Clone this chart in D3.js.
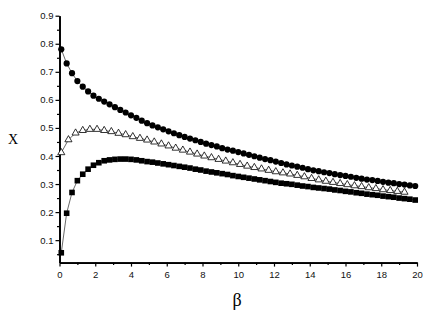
<!DOCTYPE html>
<html lang="en">
<head>
    <meta charset="UTF-8">
    <title>x vs beta</title>
    <script src="https://cdn.jsdelivr.net/npm/d3@7"></script>
    <style>
        body { margin: 0; background: #fff; }
        .tick text { font-family: "Liberation Sans", Arial, sans-serif; font-size: 9.5px; fill: #111; }
    </style>
</head>
<body>
<script>

    var width = 436;
    var height = 327;

    // beta grid for circles and squares
    var betaA = [0.1, 0.4, 0.7, 1.0, 1.3, 1.6, 1.9, 2.2, 2.5, 2.8, 3.1, 3.4, 3.7, 4.0, 4.3, 4.6, 4.9,
        5.2, 5.5, 5.8, 6.1, 6.4, 6.7, 7.0, 7.3, 7.6, 7.9, 8.2, 8.5, 8.8, 9.1, 9.4, 9.7, 10.0,
        10.3, 10.6, 10.9, 11.2, 11.5, 11.8, 12.1, 12.4, 12.7, 13.0, 13.3, 13.6, 13.9, 14.2, 14.5,
        14.8, 15.1, 15.4, 15.7, 16.0, 16.3, 16.6, 16.9, 17.2, 17.5, 17.8, 18.1, 18.4, 18.7, 19.0,
        19.3, 19.6, 19.9];

    var circles = [0.780, 0.730, 0.695, 0.667, 0.647, 0.630, 0.615, 0.604, 0.594, 0.584, 0.574, 0.564,
        0.555, 0.545, 0.536, 0.526, 0.517, 0.509, 0.502, 0.495, 0.488, 0.481, 0.474, 0.468, 0.462,
        0.456, 0.450, 0.444, 0.439, 0.434, 0.428, 0.423, 0.419, 0.414, 0.409, 0.404, 0.399, 0.394,
        0.389, 0.385, 0.380, 0.375, 0.370, 0.366, 0.362, 0.358, 0.353, 0.349, 0.346, 0.342, 0.339,
        0.335, 0.332, 0.329, 0.326, 0.322, 0.319, 0.316, 0.314, 0.311, 0.308, 0.305, 0.303, 0.300,
        0.298, 0.295, 0.293];

    var squares = [0.055, 0.196, 0.270, 0.312, 0.335, 0.353, 0.367, 0.376, 0.383, 0.386, 0.388, 0.389,
        0.389, 0.388, 0.386, 0.383, 0.380, 0.378, 0.375, 0.372, 0.369, 0.366, 0.363, 0.360, 0.357,
        0.353, 0.350, 0.346, 0.343, 0.340, 0.337, 0.334, 0.330, 0.327, 0.324, 0.321, 0.318, 0.315,
        0.312, 0.309, 0.306, 0.303, 0.301, 0.299, 0.296, 0.293, 0.291, 0.288, 0.286, 0.284, 0.282,
        0.279, 0.277, 0.274, 0.272, 0.269, 0.267, 0.264, 0.262, 0.260, 0.257, 0.255, 0.253, 0.250,
        0.248, 0.246, 0.243];

    // beta grid for triangles
    var betaB = [0.1, 0.5, 0.9, 1.3, 1.7, 2.1, 2.5, 2.9, 3.3, 3.7, 4.1, 4.5, 4.9, 5.3, 5.7, 6.1, 6.5,
        6.9, 7.3, 7.7, 8.1, 8.5, 8.9, 9.3, 9.7, 10.1, 10.5, 10.9, 11.3, 11.7, 12.1, 12.5, 12.9,
        13.3, 13.7, 14.1, 14.5, 14.9, 15.3, 15.7, 16.1, 16.5, 16.9, 17.3, 17.7, 18.1, 18.5, 18.9, 19.3];

    var triangles = [0.412, 0.458, 0.482, 0.491, 0.495, 0.495, 0.491, 0.487, 0.481, 0.476, 0.469, 0.463,
        0.457, 0.450, 0.443, 0.436, 0.428, 0.421, 0.414, 0.407, 0.400, 0.394, 0.388, 0.382, 0.376,
        0.370, 0.364, 0.359, 0.354, 0.349, 0.344, 0.340, 0.336, 0.331, 0.326, 0.320, 0.315, 0.310,
        0.306, 0.302, 0.298, 0.294, 0.291, 0.287, 0.284, 0.280, 0.277, 0.274, 0.271];

    var xTicks = [0, 2, 4, 6, 8, 10, 12, 14, 16, 18, 20];
    var xMinor = [1, 3, 5, 7, 9, 11, 13, 15, 17, 19];
    var yTicks = [0.1, 0.2, 0.3, 0.4, 0.5, 0.6, 0.7, 0.8, 0.9];
    var yMinor = [0.05, 0.15, 0.25, 0.35, 0.45, 0.55, 0.65, 0.75, 0.85];

    var xScale = d3.scaleLinear().domain([0, 20]).range([59.5, 417]);
    var yScale = d3.scaleLinear().domain([0.02, 0.9]).range([262.6, 15.7]);

    var svg = d3.select("body").append("svg")
        .attr("width", width)
        .attr("height", height);

    // axes
    var xAxis = d3.axisBottom(xScale).tickValues(xTicks).tickSize(4).tickSizeOuter(0)
        .tickFormat(d3.format("d"));
    var xAxisMinor = d3.axisBottom(xScale).tickValues(xMinor).tickSize(2.5).tickSizeOuter(0)
        .tickFormat("");
    var yAxis = d3.axisLeft(yScale).tickValues(yTicks).tickSize(4).tickSizeOuter(0)
        .tickFormat(d3.format(".1f"));
    var yAxisMinor = d3.axisLeft(yScale).tickValues(yMinor).tickSize(2.5).tickSizeOuter(0)
        .tickFormat("");

    var y0 = yScale(0.02);
    var x0 = xScale(0);

    svg.append("g").attr("transform", "translate(0," + y0 + ")").call(xAxisMinor);
    var gx = svg.append("g").attr("transform", "translate(0," + y0 + ")").call(xAxis);
    svg.append("g").attr("transform", "translate(" + x0 + ",0)").call(yAxisMinor);
    var gy = svg.append("g").attr("transform", "translate(" + x0 + ",0)").call(yAxis);

    svg.selectAll(".domain").attr("stroke", "#000").attr("stroke-width", 1.7);
    svg.selectAll(".tick line").attr("stroke", "#000").attr("stroke-width", 1.2);
    gx.selectAll(".tick text").attr("dy", "0.9em");
    gy.selectAll(".tick text").attr("x", -6);

    // axis titles
    svg.append("text")
        .attr("x", 237).attr("y", 306)
        .attr("text-anchor", "middle")
        .style("font-family", "'Liberation Serif', 'Times New Roman', serif")
        .style("font-size", "18px")
        .text("β");

    svg.append("text")
        .attr("x", 13).attr("y", 144)
        .attr("text-anchor", "middle")
        .style("font-family", "'Liberation Serif', 'Times New Roman', serif")
        .style("font-size", "14px")
        .text("X");

    var line = d3.line()
        .x(function (d) { return xScale(d[0]); })
        .y(function (d) { return yScale(d[1]); });

    var dataC = betaA.map(function (b, i) { return [b, circles[i]]; });
    var dataS = betaA.map(function (b, i) { return [b, squares[i]]; });
    var dataT = betaB.map(function (b, i) { return [b, triangles[i]]; });

    [dataC, dataT, dataS].forEach(function (d) {
        svg.append("path")
            .attr("d", line(d))
            .attr("fill", "none")
            .attr("stroke", "#444")
            .attr("stroke-width", 0.8);
    });

    svg.append("g").selectAll("circle")
        .data(dataC)
        .enter().append("circle")
        .attr("cx", function (d) { return xScale(d[0]); })
        .attr("cy", function (d) { return yScale(d[1]); })
        .attr("r", 3.1)
        .attr("fill", "#000");

    var sq = 5.6;
    svg.append("g").selectAll("rect")
        .data(dataS)
        .enter().append("rect")
        .attr("x", function (d) { return xScale(d[0]) - sq / 2; })
        .attr("y", function (d) { return yScale(d[1]) - sq / 2; })
        .attr("width", sq)
        .attr("height", sq)
        .attr("fill", "#000");

    var tri = d3.symbol().type(d3.symbolTriangle).size(22);
    svg.append("g").selectAll("path")
        .data(dataT)
        .enter().append("path")
        .attr("d", tri)
        .attr("transform", function (d) {
            return "translate(" + xScale(d[0]) + "," + yScale(d[1]) + ")";
        })
        .attr("fill", "#fff")
        .attr("stroke", "#000")
        .attr("stroke-width", 0.8);

</script>
</body>
</html>
